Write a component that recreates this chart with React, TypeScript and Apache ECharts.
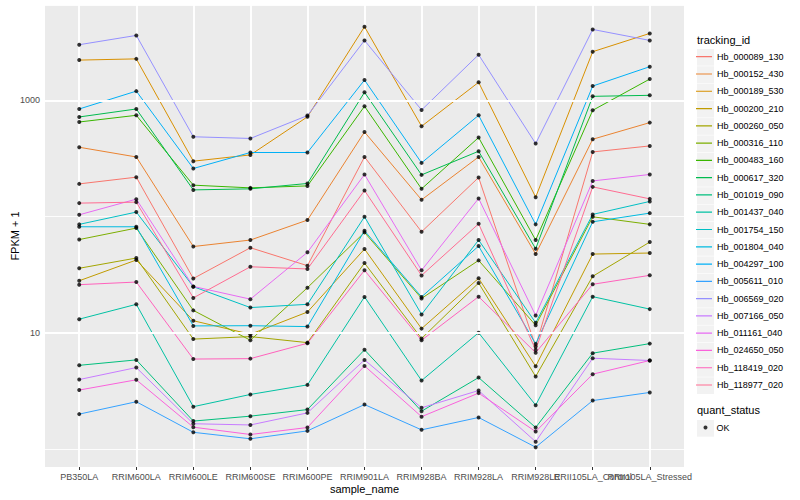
import React, { useEffect, useRef } from "react";
import * as echarts from "echarts";

const CATEGORIES = [
  "PB350LA", "RRIM600LA", "RRIM600LE", "RRIM600SE", "RRIM600PE", "RRIM901LA",
  "RRIM928BA", "RRIM928LA", "RRIM928LE", "RRII105LA_Control", "RRII105LA_Stressed",
];

const SERIES_NAMES = [
  "Hb_000089_130", "Hb_000152_430", "Hb_000189_530", "Hb_000200_210", "Hb_000260_050",
  "Hb_000316_110", "Hb_000483_160", "Hb_000617_320", "Hb_001019_090", "Hb_001437_040",
  "Hb_001754_150", "Hb_001804_040", "Hb_004297_100", "Hb_005611_010", "Hb_006569_020",
  "Hb_007166_050", "Hb_011161_040", "Hb_024650_050", "Hb_118419_020", "Hb_118977_020",
];

// FPKM + 1 per sample, one array per tracking_id
const Hb_000089_130 = [191.5, 218.6, 29.5, 54.2, 38, 326, 74.3, 217.3, 7.7, 360, 405.5];
const Hb_000152_430 = [395, 326, 55.5, 63.1, 93.6, 534, 139.7, 326, 47.8, 463, 643];
const Hb_000189_530 = [2213, 2267, 300, 339.5, 721, 4279, 598, 1426, 147.3, 2613, 3750];
const Hb_000200_210 = [28.2, 42.5, 12.8, 9.8, 15.2, 52.8, 10.95, 29.6, 5.2, 47.8, 48.8];
const Hb_000260_050 = [36.1, 44.2, 8.9, 9.35, 8.3, 40, 9.0, 27, 4.25, 30.8, 60.6];
const Hb_000316_110 = [63.7, 79.9, 15.7, 8.7, 24.6, 73.4, 19.9, 42.2, 11.7, 99.9, 86];
const Hb_000483_160 = [651, 743, 186.7, 177, 184, 888, 173.6, 478.6, 63.1, 820, 1521];
const Hb_000617_320 = [719, 842, 170, 173.6, 193, 1170, 228.8, 365, 53.1, 1081, 1103];
const Hb_001019_090 = [5.3, 5.9, 1.76, 1.94, 2.21, 7.2, 2.14, 4.16, 1.55, 6.74, 8.14];
const Hb_001437_040 = [13.2, 17.7, 2.34, 2.98, 3.6, 20.5, 3.92, 10.1, 2.41, 20.6, 16.1];
const Hb_001754_150 = [86, 109.6, 25.1, 16.6, 17.7, 99.9, 14.5, 63.1, 12.3, 104.7, 135.3];
const Hb_001804_040 = [82, 82, 11.55, 11.6, 11.4, 75.7, 20.5, 56, 8.1, 90.5, 107.4];
const Hb_004297_100 = [842, 1198, 259.6, 356, 356, 1492, 290, 743, 86, 1325, 1943];
const Hb_005611_010 = [2.02, 2.58, 1.41, 1.24, 1.45, 2.44, 1.48, 1.89, 1.05, 2.64, 3.1];
const Hb_006569_020 = [3000, 3605, 486, 470, 739, 3266, 825, 2461, 425, 4057, 3266];
const Hb_007166_050 = [4.0, 5.07, 1.67, 1.63, 2.07, 5.9, 2.29, 3.22, 1.17, 6.1, 5.83];
const Hb_011161_040 = [103.9, 141.6, 25.2, 19.6, 49.5, 230.6, 34.7, 143.6, 14.2, 203, 230.6];
const Hb_024650_050 = [3.25, 3.98, 1.56, 1.35, 1.55, 5.24, 1.92, 3.06, 1.43, 4.45, 5.83];
const Hb_118419_020 = [26.1, 27.5, 6.0, 6.05, 8.2, 34.7, 8.7, 20.6, 6.8, 26.3, 31.4];
const Hb_118977_020 = [130.9, 133.5, 20.1, 37.2, 35.6, 168, 31.3, 87, 7.2, 180.5, 142.4];

const SERIES_VALUES = [
  Hb_000089_130, Hb_000152_430, Hb_000189_530, Hb_000200_210, Hb_000260_050,
  Hb_000316_110, Hb_000483_160, Hb_000617_320, Hb_001019_090, Hb_001437_040,
  Hb_001754_150, Hb_001804_040, Hb_004297_100, Hb_005611_010, Hb_006569_020,
  Hb_007166_050, Hb_011161_040, Hb_024650_050, Hb_118419_020, Hb_118977_020,
];

const QUANT_STATUS = ["OK"];
const Y_MIN = 0.71;
const Y_MAX = 6577;
const MAJOR_Y_TICKS = [10, 1000];

const COLORS = [
  "#F8766D", "#EA8331", "#D89000", "#C09B00", "#A3A500", "#7CAE00", "#39B600",
  "#00BB4E", "#00BF7D", "#00C1A3", "#00BFC4", "#00BAE0", "#00B0F6", "#35A2FF",
  "#9590FF", "#C77CFF", "#E76BF3", "#FA62DB", "#FF62BC", "#FF6C91",
];

const FONT = '"Liberation Sans", Arial, Helvetica, sans-serif';
// a horizontal key line inside a 16x16 box (tiny corner specks keep the box size)
const KEY_LINE_ICON =
  "path://M0,7.4h16v1.2h-16z M0,0h0.01v0.01h-0.01z M15.99,15.99h0.01v0.01h-0.01z";

export default function App() {
  const ref = useRef<HTMLDivElement>(null);

  useEffect(() => {
    document.body.style.margin = "0";
    if (!ref.current) return;
    const chart = echarts.init(ref.current, undefined, { renderer: "svg" });

    const PANEL_L = 45, PANEL_T = 5, PANEL_W = 639, PANEL_H = 462;
    const step = PANEL_W / (CATEGORIES.length - 1 + 1.2);
    const KEY_TOP = 48.7, KEY_STEP = 17.28;

    const lineSeries = SERIES_NAMES.map((name, i) => ({
      name,
      type: "line",
      xAxisIndex: 1,
      yAxisIndex: 1,
      data: SERIES_VALUES[i],
      symbol: "none",
      lineStyle: { color: COLORS[i], width: 1 },
      itemStyle: { color: COLORS[i] },
      z: 2,
    }));

    const pointData: any[] = [];
    SERIES_VALUES.forEach((vals) => vals.forEach((v, j) => pointData.push([j, v])));

    const graphics: any[] = [
      {
        type: "text", left: 697, top: 34,
        style: { text: "tracking_id", fontSize: 11, fill: "#000", fontFamily: FONT },
      },
      {
        type: "text", left: 697, top: 404,
        style: { text: "quant_status", fontSize: 11, fill: "#000", fontFamily: FONT },
      },
      {
        type: "rect", z: 0,
        shape: { x: 697, y: 420, width: 17, height: 16.7 },
        style: { fill: "#F2F2F2" },
      },
    ];
    SERIES_NAMES.forEach((_, i) => {
      graphics.push({
        type: "rect", z: 0,
        shape: { x: 697, y: KEY_TOP + i * KEY_STEP + 0.3, width: 17, height: 16.7 },
        style: { fill: "#F2F2F2" },
      });
    });

    chart.setOption({
      animation: false,
      backgroundColor: "#FFFFFF",
      textStyle: { fontFamily: FONT },
      grid: [
        {
          left: PANEL_L, top: PANEL_T, width: PANEL_W, height: PANEL_H,
          show: true, backgroundColor: "#EBEBEB", borderWidth: 0, outerBoundsMode: "none",
          containLabel: false,
        },
        {
          left: PANEL_L + 0.6 * step, top: PANEL_T, width: step * (CATEGORIES.length - 1),
          height: PANEL_H, show: false, outerBoundsMode: "none", containLabel: false,
        },
      ],
      xAxis: [
        { gridIndex: 0, type: "value", min: 0, max: 1, show: false },
        {
          gridIndex: 1, type: "category", data: CATEGORIES, boundaryGap: false,
          axisLine: { show: false },
          axisTick: { show: true, interval: 0, length: 3, lineStyle: { color: "#333333", width: 1 } },
          axisLabel: { interval: 0, fontSize: 9, color: "#4D4D4D", margin: 5, fontFamily: FONT },
          splitLine: { show: true, interval: 0, lineStyle: { color: "#FFFFFF", width: 1.9 } },
          name: "sample_name", nameLocation: "middle", nameGap: 16, nameMoveOverlap: false,
          nameTextStyle: { fontSize: 11, color: "#000", fontFamily: FONT },
        },
      ],
      yAxis: [
        {
          gridIndex: 0, type: "log", min: Y_MIN, max: Y_MAX,
          axisLine: { show: false }, axisTick: { show: false },
          axisLabel: {
            fontSize: 9, color: "#4D4D4D", margin: 5, fontFamily: FONT,
            formatter: (v: number) =>
              MAJOR_Y_TICKS.some((m) => Math.abs(m - v) / m < 1e-6) ? String(Math.round(v)) : "",
          },
          splitLine: { show: true, lineStyle: { color: "#FFFFFF", width: 0.9 } },
          name: "FPKM + 1", nameLocation: "middle", nameGap: 25, nameRotate: 90,
          nameMoveOverlap: false,
          nameTextStyle: { fontSize: 11, color: "#000", fontFamily: FONT },
        },
        { gridIndex: 1, type: "log", min: Y_MIN, max: Y_MAX, show: false },
      ],
      legend: [
        {
          orient: "vertical", left: 696, top: KEY_TOP, padding: 0,
          itemWidth: 16, itemHeight: 16, itemGap: KEY_STEP - 16,
          selectedMode: false,
          textStyle: { fontSize: 9, color: "#000", fontFamily: FONT },
          data: SERIES_NAMES.map((n, i) => ({
            name: n, icon: KEY_LINE_ICON, itemStyle: { color: COLORS[i] },
          })),
        },
        {
          orient: "vertical", left: 703.5, top: 423, padding: 0,
          itemWidth: 4, itemHeight: 4, selectedMode: false,
          textStyle: { fontSize: 9, color: "#000", fontFamily: FONT, padding: [0, 0, 0, 4] },
          data: QUANT_STATUS.map((n) => ({ name: n, icon: "circle" })),
        },
      ],
      graphic: graphics,
      series: [
        {
          type: "line", xAxisIndex: 0, yAxisIndex: 0, data: [], silent: true, z: 1,
          markLine: {
            silent: true, symbol: "none", animation: false,
            label: { show: false },
            lineStyle: { color: "#FFFFFF", width: 1.9, type: "solid" },
            data: MAJOR_Y_TICKS.map((v) => ({ yAxis: v })),
          },
        },
        ...lineSeries,
        {
          name: QUANT_STATUS[0], type: "scatter", xAxisIndex: 1, yAxisIndex: 1,
          data: pointData, symbol: "circle", symbolSize: 4,
          itemStyle: { color: "#000000" }, z: 3,
        },
      ],
    });

    return () => chart.dispose();
  }, []);

  return <div ref={ref} style={{ width: 800, height: 500 }} />;
}
